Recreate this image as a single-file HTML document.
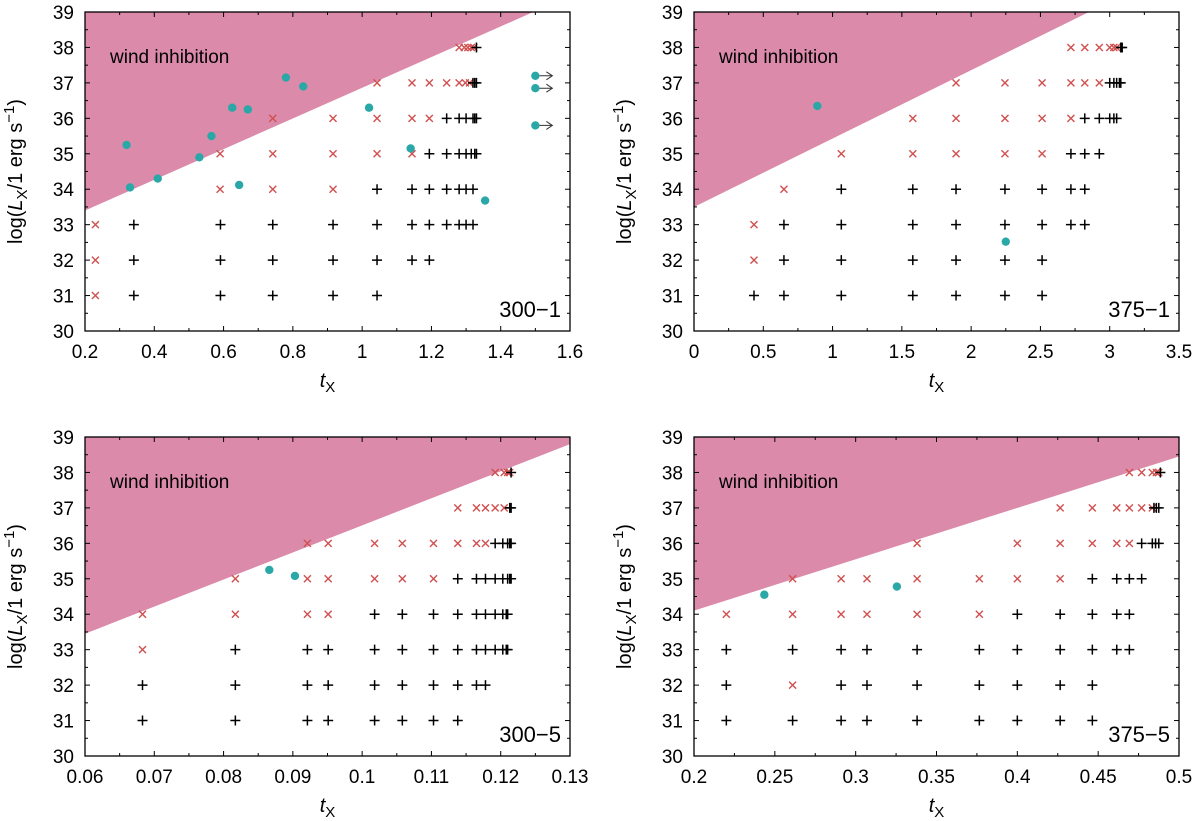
<!DOCTYPE html>
<html><head><meta charset="utf-8">
<style>
html,body{margin:0;padding:0;background:#fff;}
svg{display:block;font-family:"Liberation Sans",Arial,sans-serif;}
</style></head>
<body>
<svg id="chart" width="1200" height="821" viewBox="0 0 1200 821" xmlns="http://www.w3.org/2000/svg"></svg>
<script>
// ---------- Panel 300-1 ----------
const p1RedX = [0.23,0.23,0.23,0.59,0.59,0.742,0.742,0.742,0.916,0.916,0.916,1.043,1.043,1.043,1.144,1.144,1.144,1.194,1.194,1.244,1.28,1.298,1.31,1.28,1.295,1.305,1.315,1.322];
const p1RedY = [31,32,33,34,35,34,35,36,34,35,36,35,36,37,35,36,37,36,37,37,37,37,37,38,38,38,38,38];
const p1PlusX = [0.341,0.591,0.742,0.916,1.043, 0.341,0.591,0.742,0.916,1.043,1.144,1.194, 0.341,0.591,0.742,0.916,1.043,1.144,1.194,1.244,1.28,1.30,1.32, 1.043,1.144,1.194,1.244,1.28,1.30,1.32, 1.194,1.244,1.28,1.30,1.315,1.325,1.33, 1.244,1.28,1.30,1.32,1.325,1.33, 1.32,1.325,1.33, 1.33];
const p1PlusY = [31,31,31,31,31, 32,32,32,32,32,32,32, 33,33,33,33,33,33,33,33,33,33,33, 34,34,34,34,34,34,34, 35,35,35,35,35,35,35, 36,36,36,36,36,36, 37,37,37, 38];
const p1DotX = [0.32,0.33,0.41,0.53,0.565,0.625,0.645,0.67,0.78,0.83,1.02,1.14,1.355,1.5,1.5,1.5];
const p1DotY = [35.25,34.05,34.3,34.9,35.5,36.3,34.12,36.25,37.15,36.9,36.3,35.15,33.68,37.2,36.85,35.8];
const p1Arrow = [false,false,false,false,false,false,false,false,false,false,false,false,false,true,true,true];
const p1XTicks = [0.2,0.4,0.6,0.8,1,1.2,1.4,1.6];
const p1XLabels = ["0.2","0.4","0.6","0.8","1","1.2","1.4","1.6"];
const p1Shade = [[0.2,33.4],[1.494,39]];

// ---------- Panel 375-1 ----------
const p2RedX = [0.433,0.433,0.649,1.063,1.579,1.579,1.891,1.891,1.891,2.244,2.244,2.244,2.512,2.512,2.512,2.72,2.72,2.82,2.925,2.72,2.82,2.925,3.0,3.03,3.05];
const p2RedY = [32,33,34,35,35,36,35,36,37,35,36,37,35,36,37,36,37,37,37,38,38,38,38,38,38];
const p2PlusX = [0.433,0.649,1.063,1.579,1.891,2.244,2.512, 0.649,1.063,1.579,1.891,2.244,2.512, 0.649,1.063,1.579,1.891,2.244,2.512,2.72,2.82, 1.063,1.579,1.891,2.244,2.512,2.72,2.82, 2.72,2.82,2.925, 2.82,2.925,3.0,3.03,3.05, 3.0,3.03,3.05,3.07,3.08, 3.08,3.09];
const p2PlusY = [31,31,31,31,31,31,31, 32,32,32,32,32,32, 33,33,33,33,33,33,33,33, 34,34,34,34,34,34,34, 35,35,35, 36,36,36,36,36, 37,37,37,37,37, 38,38];
const p2DotX = [0.89,2.25];
const p2DotY = [36.35,32.52];
const p2Arrow = [false,false];
const p2XTicks = [0,0.5,1,1.5,2,2.5,3,3.5];
const p2XLabels = ["0","0.5","1","1.5","2","2.5","3","3.5"];
const p2Shade = [[0,33.5],[2.85,39]];

// ---------- Panel 300-5 ----------
const p3RedX = [0.0683,0.0683,0.0817,0.0817,0.0921,0.0921,0.0921,0.0951,0.0951,0.0951,0.1018,0.1018,0.1058,0.1058,0.1103,0.1103,0.1138,0.1138,0.1165,0.1178,0.1165,0.1178,0.1192,0.1205,0.1192,0.1205,0.121,0.1213];
const p3RedY = [33,34,34,35,34,35,36,34,35,36,35,36,35,36,35,36,36,37,36,36,37,37,37,37,38,38,38,38];
const p3PlusX = [0.0683,0.0817,0.0921,0.0951,0.1018,0.1058,0.1103,0.1138, 0.0683,0.0817,0.0921,0.0951,0.1018,0.1058,0.1103,0.1138,0.1165,0.1178, 0.0817,0.0921,0.0951,0.1018,0.1058,0.1103,0.1138,0.1165,0.1178,0.1192,0.1203,0.1208,0.121, 0.1018,0.1058,0.1103,0.1138,0.1165,0.1178,0.1192,0.1203,0.1208,0.121, 0.1138,0.1165,0.1178,0.1192,0.1203,0.121,0.1213,0.1215, 0.1192,0.1203,0.121,0.1213,0.1215, 0.1213,0.1215, 0.1215];
const p3PlusY = [31,31,31,31,31,31,31,31, 32,32,32,32,32,32,32,32,32,32, 33,33,33,33,33,33,33,33,33,33,33,33,33, 34,34,34,34,34,34,34,34,34,34, 35,35,35,35,35,35,35,35, 36,36,36,36,36, 37,37, 38];
const p3DotX = [0.0866,0.0903];
const p3DotY = [35.25,35.08];
const p3Arrow = [false,false];
const p3XTicks = [0.06,0.07,0.08,0.09,0.1,0.11,0.12,0.13];
const p3XLabels = ["0.06","0.07","0.08","0.09","0.1","0.11","0.12","0.13"];
const p3Shade = [[0.06,33.45],[0.13,38.8]];

// ---------- Panel 375-5 ----------
const p4RedX = [0.22,0.261,0.261,0.261,0.291,0.291,0.307,0.307,0.338,0.338,0.338,0.3765,0.3765,0.4,0.4,0.4265,0.4265,0.4265,0.4464,0.4464,0.4615,0.4693,0.4615,0.4693,0.4769,0.4835,0.4693,0.4769,0.4835,0.486,0.4875];
const p4RedY = [34,32,34,35,34,35,34,35,34,35,36,34,35,35,36,35,36,37,36,37,36,36,37,37,37,37,38,38,38,38,38];
const p4PlusX = [0.22,0.261,0.291,0.307,0.338,0.3765,0.4,0.4265,0.4464, 0.22,0.291,0.307,0.338,0.3765,0.4,0.4265,0.4464, 0.22,0.261,0.291,0.307,0.338,0.3765,0.4,0.4265,0.4464,0.4615,0.4693, 0.4,0.4265,0.4464,0.4615,0.4693, 0.4464,0.4615,0.4693,0.4769, 0.4769,0.4835,0.4855,0.4875, 0.4845,0.486,0.4875, 0.4885];
const p4PlusY = [31,31,31,31,31,31,31,31,31, 32,32,32,32,32,32,32,32, 33,33,33,33,33,33,33,33,33,33,33, 34,34,34,34,34, 35,35,35,35, 36,36,36,36, 37,37,37, 38];
const p4DotX = [0.2435,0.3255];
const p4DotY = [34.55,34.78];
const p4Arrow = [false,false];
const p4XTicks = [0.2,0.25,0.3,0.35,0.4,0.45,0.5];
const p4XLabels = ["0.2","0.25","0.3","0.35","0.4","0.45","0.5"];
const p4Shade = [[0.2,34.1],[0.5,38.45]];

const yTicks = [30,31,32,33,34,35,36,37,38,39];
const yLabels = ["30","31","32","33","34","35","36","37","38","39"];

const NS = "http://www.w3.org/2000/svg";
const svg = document.getElementById('chart');
function mk(tag, attrs, parent){
  const e = document.createElementNS(NS, tag);
  for (const k in attrs) e.setAttribute(k, attrs[k]);
  (parent||svg).appendChild(e);
  return e;
}

const panels = [
  {id:'300-1', L:85, T:12, xmin:0.2, xmax:1.6, redX:p1RedX, redY:p1RedY, plusX:p1PlusX, plusY:p1PlusY, dotX:p1DotX, dotY:p1DotY, arrow:p1Arrow, xt:p1XTicks, xl:p1XLabels, shade:p1Shade},
  {id:'375-1', L:694, T:12, xmin:0, xmax:3.5, redX:p2RedX, redY:p2RedY, plusX:p2PlusX, plusY:p2PlusY, dotX:p2DotX, dotY:p2DotY, arrow:p2Arrow, xt:p2XTicks, xl:p2XLabels, shade:p2Shade},
  {id:'300-5', L:85, T:437, xmin:0.06, xmax:0.13, redX:p3RedX, redY:p3RedY, plusX:p3PlusX, plusY:p3PlusY, dotX:p3DotX, dotY:p3DotY, arrow:p3Arrow, xt:p3XTicks, xl:p3XLabels, shade:p3Shade},
  {id:'375-5', L:694, T:437, xmin:0.2, xmax:0.5, redX:p4RedX, redY:p4RedY, plusX:p4PlusX, plusY:p4PlusY, dotX:p4DotX, dotY:p4DotY, arrow:p4Arrow, xt:p4XTicks, xl:p4XLabels, shade:p4Shade}
];

const W = 485, H = 319;
panels.forEach(p => {
  const g = mk('g', {});
  
  
  const xs = v => p.L + (v - p.xmin) / (p.xmax - p.xmin) * W;
  const ys = v => p.T + H - (v - 30) / 9 * H;
  const R = p.L + W, B = p.T + H;

  const a = p.shade[0], b = p.shade[1];
  const slope = (b[1]-a[1])/(b[0]-a[0]);
  const yAtMax = a[1] + slope*(p.xmax - a[0]);
  let pts;
  if (yAtMax >= 39) pts = [[xs(p.xmin),ys(39)],[xs(b[0]),ys(39)],[xs(a[0]),ys(a[1])]];
  else pts = [[xs(p.xmin),ys(39)],[xs(p.xmax),ys(39)],[xs(p.xmax),ys(yAtMax)],[xs(a[0]),ys(a[1])]];
  const sh = mk('polygon', {points: pts.map(q=>q.join(',')).join(' '), fill:'#db8aa9'}, g);
  
  
  const wt = mk('text', {x:p.L+25, y:p.T+51, 'font-size':19, fill:'#000'}, g);
  wt.textContent = 'wind inhibition';
  
  

  p.xt.forEach((t,i) => {
    const x = xs(t);
    mk('line', {x1:x, y1:B, x2:x, y2:B-5, stroke:'#000', 'stroke-width':1}, g);
    mk('line', {x1:x, y1:p.T, x2:x, y2:p.T+5, stroke:'#000', 'stroke-width':1}, g);
    if (i < p.xt.length-1) {
      const xm = xs((t + p.xt[i+1])/2);
      mk('line', {x1:xm, y1:B, x2:xm, y2:B-3, stroke:'#000', 'stroke-width':1}, g);
      mk('line', {x1:xm, y1:p.T, x2:xm, y2:p.T+3, stroke:'#000', 'stroke-width':1}, g);
    }
    const tl = mk('text', {x:x, y:B+27, 'font-size':19, 'text-anchor':'middle'}, g);
    tl.textContent = p.xl[i];
    
    
  });
  yTicks.forEach((t,i) => {
    const y = ys(t);
    mk('line', {x1:p.L, y1:y, x2:p.L+5, y2:y, stroke:'#000', 'stroke-width':1}, g);
    mk('line', {x1:R, y1:y, x2:R-5, y2:y, stroke:'#000', 'stroke-width':1}, g);
    if (i < yTicks.length-1) {
      const ym = ys(t+0.5);
      mk('line', {x1:p.L, y1:ym, x2:p.L+3, y2:ym, stroke:'#000', 'stroke-width':1}, g);
      mk('line', {x1:R, y1:ym, x2:R-3, y2:ym, stroke:'#000', 'stroke-width':1}, g);
    }
    const tl = mk('text', {x:p.L-11, y:y+7, 'font-size':19, 'text-anchor':'end'}, g);
    tl.textContent = yLabels[i];
    
    
  });

  p.redX.forEach((v,i) => {
    const x = xs(v), y = ys(p.redY[i]), s = 3.5;
    const c = mk('path', {d:`M${x-s},${y-s}L${x+s},${y+s}M${x-s},${y+s}L${x+s},${y-s}`, stroke:'#d0504f', 'stroke-width':1.4, fill:'none'}, g);
    
    
  });
  p.plusX.forEach((v,i) => {
    const x = xs(v), y = ys(p.plusY[i]), s = 5;
    const c = mk('path', {d:`M${x-s},${y}L${x+s},${y}M${x},${y-s}L${x},${y+s}`, stroke:'#000', 'stroke-width':1.5, fill:'none'}, g);
    
    
  });
  p.dotX.forEach((v,i) => {
    const x = xs(v), y = ys(p.dotY[i]);
    if (p.arrow[i]) {
      const ar = mk('path', {d:`M${x},${y}L${x+17},${y}M${x+11},${y-4}L${x+17},${y}L${x+11},${y+4}`, stroke:'#333', 'stroke-width':1, fill:'none'}, g);
      
      
    }
    const c = mk('circle', {cx:x, cy:y, r:4.2, fill:'#2aa7a7'}, g);
    
    
  });

  const fr = mk('rect', {x:p.L, y:p.T, width:W, height:H, fill:'none', stroke:'#000', 'stroke-width':1.3}, g);
  
  

  const pl = mk('text', {x:R-9, y:B-14, 'font-size':22, 'text-anchor':'end'}, g);
  pl.textContent = p.id.replace('-', '\u2212');
  
  

  const xt = mk('text', {x:p.L + W/2, y:B+56, 'font-size':20, 'text-anchor':'middle'}, g);
  xt.innerHTML = '<tspan font-style="italic">t</tspan><tspan font-size="15" dy="5">X</tspan>';
  
  

  const yt = mk('text', {x:0, y:0, 'font-size':20, 'text-anchor':'middle', transform:`translate(${p.L-63},${p.T+H/2}) rotate(-90)`}, g);
  yt.innerHTML = 'log(<tspan font-style="italic">L</tspan><tspan font-size="15" dy="5">X</tspan><tspan dy="-5">/1 erg s</tspan><tspan font-size="15" dy="-8">−1</tspan><tspan dy="8">)</tspan>';
  
  
});
</script>
</body></html>
